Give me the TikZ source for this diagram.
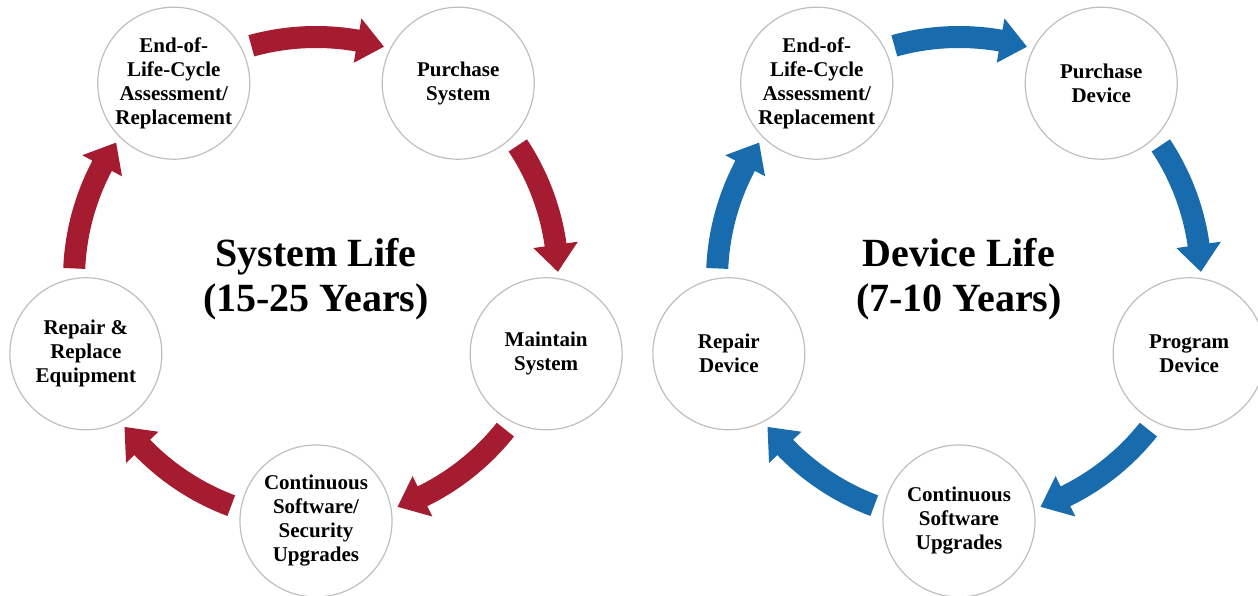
\documentclass[tikz,border=0pt]{standalone}
\usepackage{fontspec}
\setmainfont{Liberation Serif}
\definecolor{cycred}{RGB}{165,28,48}
\definecolor{cycblue}{RGB}{24,107,172}
% block arrow along the ring: #1 tail angle, #2 tip angle (clockwise)
\def\ringarrow#1#2{(#1:253) arc[start angle=#1, end angle=#2+6.4, radius=253]
  -- (#2+6.4:264.5) -- (#2:242) -- (#2+6.4:219.5) -- (#2+6.4:231)
  arc[start angle=#2+6.4, end angle=#1, radius=231] -- cycle}
\tikzset{
  stage/.style={circle,draw=black!25,line width=1.2pt,fill=white,minimum size=152pt,
    inner sep=0pt,align=center,font=\bfseries\fontsize{21}{24}\selectfont},
  ringtitle/.style={align=center,font=\bfseries\fontsize{40}{45}\selectfont}
}

\begin{document}
\begin{tikzpicture}[x=1pt,y=1pt]
  \clip (0,0) rectangle (1258,596);
  % system ring
  \begin{scope}[shift={(316,317)}]
    \foreach \a in {126,54,-18,-90,-162}
      \fill[cycred] \ringarrow{\a-20.5}{\a-52.3};
    \node[stage] (sysend) at (126:242) {End-of-\\Life-Cycle\\Assessment/\\Replacement};
    \node[stage] (sysbuy) at (54:242) {Purchase\\System};
    \node[stage] (syskeep) at (-18:242) {Maintain\\System};
    \node[stage] (sysupd) at (-90:242) {Continuous\\Software/\\Security\\Upgrades};
    \node[stage] (sysfix) at (-162:242) {Repair \&\\Replace\\Equipment};
    \node[ringtitle] (systitle) at (0,0) {System Life\\(15-25 Years)};
  \end{scope}
  % device ring
  \begin{scope}[shift={(959,317)}]
    \foreach \a in {126,54,-18,-90,-162}
      \fill[cycblue] \ringarrow{\a-20.5}{\a-52.3};
    \node[stage] (devend) at (126:242) {End-of-\\Life-Cycle\\Assessment/\\Replacement};
    \node[stage] (devbuy) at (54:242) {Purchase\\Device};
    \node[stage] (devprog) at (-18:242) {Program\\Device};
    \node[stage] (devupd) at (-90:242) {Continuous\\Software\\Upgrades};
    \node[stage] (devfix) at (-162:242) {Repair\\Device};
    \node[ringtitle] (devtitle) at (0,0) {Device Life\\(7-10 Years)};
  \end{scope}
\end{tikzpicture}
\end{document}
